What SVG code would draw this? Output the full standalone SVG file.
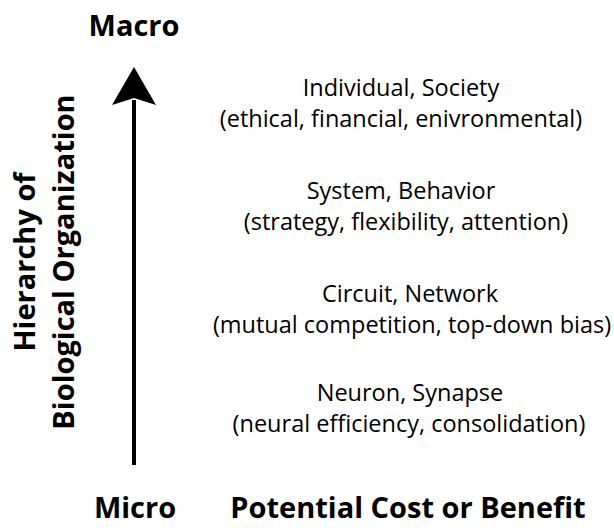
<svg xmlns="http://www.w3.org/2000/svg" width="614" height="528" viewBox="0 0 614 528">
<style>
.b{font-family:"Open Sans","Noto Sans",sans-serif;font-weight:bold;font-size:29px;fill:#000}
.t{font-family:"Open Sans","Noto Sans",sans-serif;font-size:23.5px;fill:#000;text-anchor:middle}
</style>
<rect width="614" height="528" fill="#fff"/>
<g id="connectors">
<line x1="134" y1="465" x2="134" y2="100" stroke="#000" stroke-width="4"/>
<path d="M134,67 L156,105 L134,98 L112,105 Z" fill="#000"/>
</g>
<g id="macro"><text class="b" x="134" y="36" text-anchor="middle">Macro</text></g>
<g id="micro"><text class="b" x="135" y="518" text-anchor="middle">Micro</text></g>
<g id="axis-label">
<text class="b" transform="translate(35,262) rotate(-90)" text-anchor="middle">Hierarchy of</text>
<text class="b" transform="translate(74,262) rotate(-90)" text-anchor="middle">Biological Organization</text>
</g>
<g id="individual">
<text class="t" x="401" y="96">Individual, Society</text>
<text class="t" x="401" y="127">(ethical, financial, enivronmental)</text>
</g>
<g id="system">
<text class="t" x="401" y="199">System, Behavior</text>
<text class="t" x="406" y="230">(strategy, flexibility, attention)</text>
</g>
<g id="circuit">
<text class="t" x="410" y="302">Circuit, Network</text>
<text class="t" x="412" y="333">(mutual competition, top-down bias)</text>
</g>
<g id="neuron">
<text class="t" x="410" y="401">Neuron, Synapse</text>
<text class="t" x="409" y="432">(neural efficiency, consolidation)</text>
</g>
<g id="footer"><text class="b" x="408" y="518" text-anchor="middle">Potential Cost or Benefit</text></g>
</svg>
